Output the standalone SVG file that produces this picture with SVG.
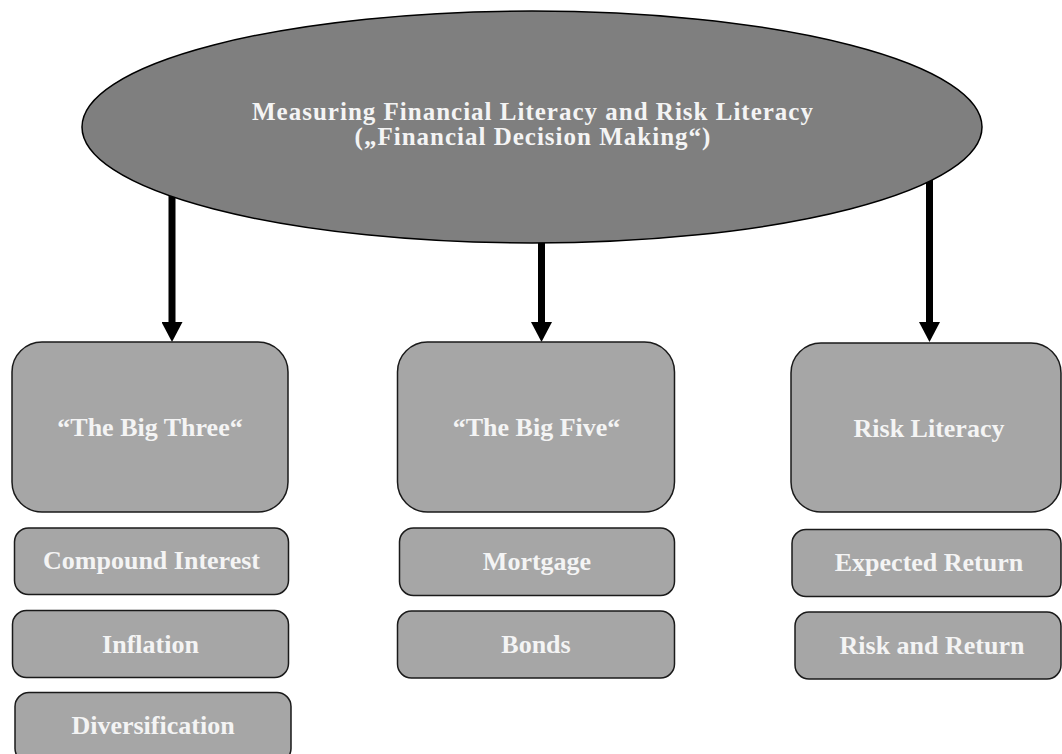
<svg xmlns="http://www.w3.org/2000/svg" width="1062" height="754" viewBox="0 0 1062 754">
<style>
.box{fill:#a6a6a6;stroke:#1a1a1a;stroke-width:1.5}
.lbl{fill:#f4f4f4;font-family:"Liberation Serif","Times New Roman",serif;font-weight:bold;font-size:26px;text-anchor:middle}
.ttl{fill:#f4f4f4;font-family:"Liberation Serif","Times New Roman",serif;font-weight:bold;font-size:25px;letter-spacing:1px;text-anchor:middle}
.arr{stroke:#000;stroke-width:7;fill:none}
</style>
<defs>
<marker id="ah" viewBox="0 0 20 21" markerWidth="20" markerHeight="21" markerUnits="userSpaceOnUse" refX="0" refY="10.5" orient="auto">
<path d="M0,0 L20,10.5 L0,21 z" fill="#000"/>
</marker>
</defs>
<rect width="1062" height="754" fill="#fff"/>
<g id="connectors">
<line class="arr" x1="172" y1="127" x2="172" y2="322" marker-end="url(#ah)"/>
<line class="arr" x1="541.5" y1="127" x2="541.5" y2="322" marker-end="url(#ah)"/>
<line class="arr" x1="929.5" y1="127" x2="929.5" y2="322" marker-end="url(#ah)"/>
</g>
<g id="root">
<ellipse cx="532" cy="127" rx="450" ry="116" fill="#7f7f7f" stroke="#000" stroke-width="1.5"/>
<text class="ttl" x="533" y="120">Measuring Financial Literacy and Risk Literacy</text>
<text class="ttl" x="533" y="145">(„Financial Decision Making“)</text>
</g>
<g id="big-three">
<rect class="box" x="12" y="342" width="276" height="170" rx="30"/>
<text class="lbl" x="150" y="436">“The Big Three“</text>
</g>
<g id="big-five">
<rect class="box" x="397.5" y="342" width="277" height="170" rx="30"/>
<text class="lbl" x="536.5" y="436">“The Big Five“</text>
</g>
<g id="risk-literacy">
<rect class="box" x="791" y="343" width="270" height="169" rx="30"/>
<text class="lbl" x="929" y="437">Risk Literacy</text>
</g>
<g id="compound-interest">
<rect class="box" x="14.5" y="528" width="274" height="66.5" rx="14"/>
<text class="lbl" x="151.5" y="569">Compound Interest</text>
</g>
<g id="inflation">
<rect class="box" x="12.5" y="610.5" width="276" height="67" rx="14"/>
<text class="lbl" x="150.5" y="653">Inflation</text>
</g>
<g id="diversification">
<rect class="box" x="15" y="692.5" width="276" height="70" rx="14"/>
<text class="lbl" x="153" y="734">Diversification</text>
</g>
<g id="mortgage">
<rect class="box" x="399.5" y="528" width="275" height="67.5" rx="14"/>
<text class="lbl" x="537" y="570">Mortgage</text>
</g>
<g id="bonds">
<rect class="box" x="397.5" y="611" width="277" height="67" rx="14"/>
<text class="lbl" x="536" y="653">Bonds</text>
</g>
<g id="expected-return">
<rect class="box" x="792" y="529.5" width="269" height="67" rx="14"/>
<text class="lbl" x="929" y="571">Expected Return</text>
</g>
<g id="risk-and-return">
<rect class="box" x="795" y="612" width="266" height="67" rx="14"/>
<text class="lbl" x="932" y="654">Risk and Return</text>
</g>
</svg>
